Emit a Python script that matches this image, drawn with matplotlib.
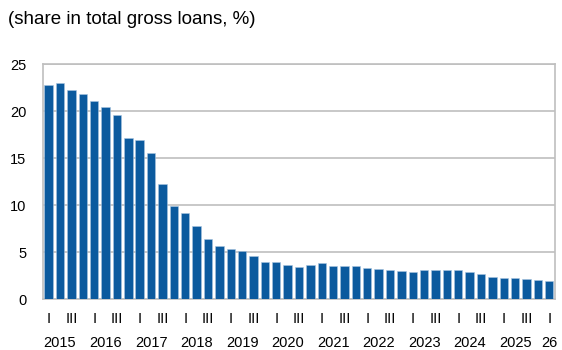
import matplotlib.pyplot as plt
import matplotlib.transforms as mtransforms
import numpy as np

plt.rcParams['font.family'] = ['Liberation Sans', 'DejaVu Sans']

# NPL share by quarter, 2015 Q1 .. 2026 Q1
npl_share = [22.8, 23.0, 22.2, 21.8, 21.1, 20.4, 19.6, 17.1, 16.9, 15.6,
             12.3, 9.9, 9.2, 7.8, 6.4, 5.7, 5.4, 5.2, 4.6, 4.0,
             3.95, 3.65, 3.4, 3.65, 3.83, 3.58, 3.51, 3.51, 3.37, 3.23,
             3.12, 2.98, 2.94, 3.12, 3.09, 3.16, 3.16, 2.87, 2.66, 2.41,
             2.27, 2.23, 2.13, 2.06, 1.99]
years = ['2015', '2016', '2017', '2018', '2019', '2020', '2021',
         '2022', '2023', '2024', '2025']
last_label = '26'
y_ticks = [0, 5, 10, 15, 20, 25]

BAR_COLOR = '#0b5a9e'
GRID_COLOR = '#bfbfbf'

fig = plt.figure(figsize=(5.62, 3.5), dpi=100)
ax = fig.add_axes([0.0765, 0.1443, 0.911, 0.6727])

x = np.arange(len(npl_share))
ax.bar(x, npl_share, width=0.74, color=BAR_COLOR,
       edgecolor='#a9c4df', linewidth=0.4, zorder=3)

ax.set_xlim(-0.5, len(npl_share) - 0.5)
ax.set_ylim(0, 25)
ax.set_yticks(y_ticks)
ax.tick_params(axis='y', length=0, pad=12, labelsize=10.5)
ax.yaxis.grid(True, color=GRID_COLOR, linewidth=1.2, zorder=0)

# quarter labels: I at Q1, III at Q3
q_pos = []
q_lab = []
for i in range(len(npl_share)):
    if i % 4 == 0:
        q_pos.append(i)
        q_lab.append('I')
    elif i % 4 == 2:
        q_pos.append(i)
        q_lab.append('III')
ax.set_xticks(q_pos)
ax.set_xticklabels(q_lab, fontsize=10.5)
ax.tick_params(axis='x', length=0, pad=9)

# year labels
trans = mtransforms.blended_transform_factory(ax.transData, ax.transAxes)
for k, yr in enumerate(years):
    ax.text(4 * k + 1, -0.185, yr, transform=trans, ha='center',
            va='center', fontsize=10.5)
ax.text(len(npl_share) - 1, -0.185, last_label, transform=trans,
        ha='center', va='center', fontsize=10.5)

for s in ax.spines.values():
    s.set_color(GRID_COLOR)
    s.set_linewidth(1.2)

fig.text(0.015, 0.945, '(share in total gross loans, %)', fontsize=13.5,
         ha='left', va='center')

fig.savefig('out.png', dpi=100)
